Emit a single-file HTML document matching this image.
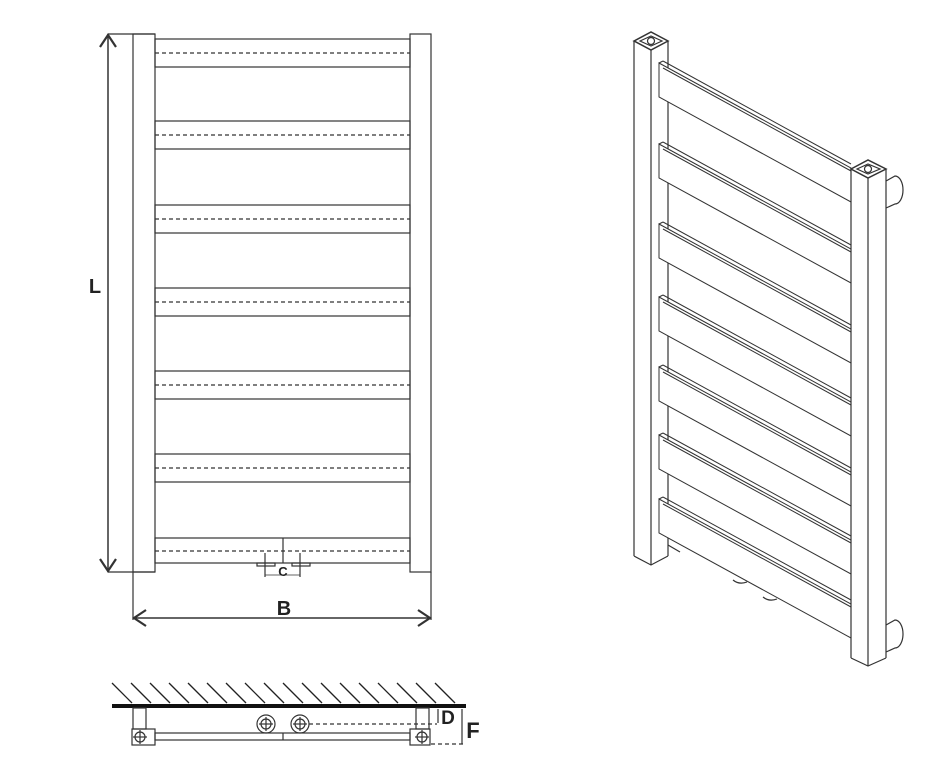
<!DOCTYPE html>
<html><head><style>body{margin:0;background:#fff}svg{display:block}text{font-family:"Liberation Sans",sans-serif;fill:#222;font-weight:bold}</style></head><body>
<svg width="944" height="780" viewBox="0 0 944 780" xmlns="http://www.w3.org/2000/svg">
<g fill="none" stroke="#333" stroke-width="1.2">
<rect x="133" y="34" width="22" height="538"/>
<rect x="410" y="34" width="21" height="538"/>
<g>
<rect x="155" y="39" width="255" height="28"/><line x1="155" y1="53" x2="410" y2="53" stroke-dasharray="4,3"/>
<rect x="155" y="121" width="255" height="28"/><line x1="155" y1="135" x2="410" y2="135" stroke-dasharray="4,3"/>
<rect x="155" y="205" width="255" height="28"/><line x1="155" y1="219" x2="410" y2="219" stroke-dasharray="4,3"/>
<rect x="155" y="288" width="255" height="28"/><line x1="155" y1="302" x2="410" y2="302" stroke-dasharray="4,3"/>
<rect x="155" y="371" width="255" height="28"/><line x1="155" y1="385" x2="410" y2="385" stroke-dasharray="4,3"/>
<rect x="155" y="454" width="255" height="28"/><line x1="155" y1="468" x2="410" y2="468" stroke-dasharray="4,3"/>
<rect x="155" y="538" width="255" height="25"/><line x1="155" y1="551" x2="410" y2="551" stroke-dasharray="4,3"/>
</g>
<line x1="108" y1="34" x2="155" y2="34"/><line x1="108" y1="572" x2="155" y2="572"/>
<line x1="108" y1="34" x2="108" y2="572" stroke-width="1.5"/>
<polyline points="100,47 108,35 116,47" stroke-width="2.2"/>
<polyline points="100,559 108,571 116,559" stroke-width="2.2"/>
<line x1="133" y1="572" x2="133" y2="620"/><line x1="431" y1="572" x2="431" y2="620"/>
<line x1="134" y1="618" x2="430" y2="618" stroke-width="1.5"/>
<polyline points="146,610 134,618 146,626" stroke-width="2.2"/>
<polyline points="418,610 430,618 418,626" stroke-width="2.2"/>
<line x1="283" y1="538" x2="283" y2="563"/>
<line x1="265" y1="553" x2="265" y2="577"/><line x1="300" y1="553" x2="300" y2="577"/>
<rect x="257" y="563" width="18" height="3"/><rect x="292" y="563" width="18" height="3"/>
<line x1="265" y1="575" x2="300" y2="575" stroke-width="0.8"/>
<g stroke="#222" stroke-width="1.3">
<line x1="112" y1="683" x2="132" y2="703"/><line x1="131" y1="683" x2="151" y2="703"/><line x1="150" y1="683" x2="170" y2="703"/><line x1="169" y1="683" x2="189" y2="703"/><line x1="188" y1="683" x2="208" y2="703"/><line x1="207" y1="683" x2="227" y2="703"/><line x1="226" y1="683" x2="246" y2="703"/><line x1="245" y1="683" x2="265" y2="703"/><line x1="264" y1="683" x2="284" y2="703"/><line x1="283" y1="683" x2="303" y2="703"/><line x1="302" y1="683" x2="322" y2="703"/><line x1="321" y1="683" x2="341" y2="703"/><line x1="340" y1="683" x2="360" y2="703"/><line x1="359" y1="683" x2="379" y2="703"/><line x1="378" y1="683" x2="398" y2="703"/><line x1="397" y1="683" x2="417" y2="703"/><line x1="416" y1="683" x2="436" y2="703"/><line x1="435" y1="683" x2="455" y2="703"/>
</g>
<line x1="112" y1="706" x2="466" y2="706" stroke="#111" stroke-width="4"/>
<rect x="133" y="708" width="13" height="21"/><rect x="416" y="708" width="13" height="21"/>
<rect x="132" y="729" width="23" height="16"/><rect x="410" y="729" width="20" height="16"/>
<rect x="155" y="733" width="255" height="7"/><line x1="283" y1="733" x2="283" y2="740"/>
<circle cx="140" cy="737" r="5"/><line x1="133" y1="737" x2="147" y2="737"/><line x1="140" y1="730" x2="140" y2="744"/>
<circle cx="422" cy="737" r="5"/><line x1="415" y1="737" x2="429" y2="737"/><line x1="422" y1="730" x2="422" y2="744"/>
<circle cx="266" cy="724" r="9"/><circle cx="266" cy="724" r="5"/><line x1="259" y1="724" x2="273" y2="724"/><line x1="266" y1="717" x2="266" y2="731"/>
<circle cx="300" cy="724" r="9"/><circle cx="300" cy="724" r="5"/><line x1="293" y1="724" x2="307" y2="724"/><line x1="300" y1="717" x2="300" y2="731"/>
<line x1="309" y1="724" x2="437" y2="724" stroke-dasharray="4,3"/>
<line x1="438" y1="709" x2="438" y2="723"/>
<line x1="431" y1="744" x2="465" y2="744" stroke-dasharray="4,3"/>
<line x1="462" y1="709" x2="462" y2="744"/>
<polygon points="634,41 651,32 668,41 651,50" stroke-width="1.5"/>
<polygon points="640,41 651,36 662,41 651,46"/><circle cx="651" cy="41" r="3.5"/>
<line x1="634" y1="41" x2="634" y2="556"/><line x1="651" y1="50" x2="651" y2="565"/><line x1="668" y1="41" x2="668" y2="556"/>
<polyline points="634,556 651,565 668,556"/>
<path d="M886,181 L895,176 A8,14 0 0 1 895,204 L886,208"/>
<path d="M886,625 L895,620 A8,14 0 0 1 895,648 L886,652"/>
<g stroke-width="1">
<g id="bar"><polygon points="659,63 851,168 851,202 659,97" fill="#fff"/><line x1="663" y1="68" x2="851" y2="171"/><line x1="659" y1="63" x2="663" y2="61"/><line x1="663" y1="61" x2="851" y2="164"/></g>
<use href="#bar" y="81"/><use href="#bar" y="161"/><use href="#bar" y="234"/><use href="#bar" y="304"/><use href="#bar" y="372"/><use href="#bar" y="436"/>
</g>
<line x1="668" y1="545" x2="680" y2="552"/>
<path d="M733,580 q6,5 14,2"/><path d="M763,597 q6,5 14,2"/>
<polygon points="851,169 868,160 886,169 868,178" fill="#fff" stroke-width="1.5"/>
<polygon points="857,169 868,164 880,169 868,174"/><circle cx="868" cy="169" r="3.5"/>
<line x1="851" y1="169" x2="851" y2="658"/><line x1="868" y1="178" x2="868" y2="666"/><line x1="886" y1="169" x2="886" y2="658"/>
<polyline points="851,658 868,666 886,658"/>
</g>
<text x="95" y="293" font-size="20" text-anchor="middle">L</text>
<text x="284" y="615" font-size="20" text-anchor="middle">B</text>
<text x="283" y="576" font-size="13" text-anchor="middle">C</text>
<text x="448" y="724" font-size="19" text-anchor="middle">D</text>
<text x="473" y="738" font-size="22" text-anchor="middle">F</text>
</svg>
</body></html>
